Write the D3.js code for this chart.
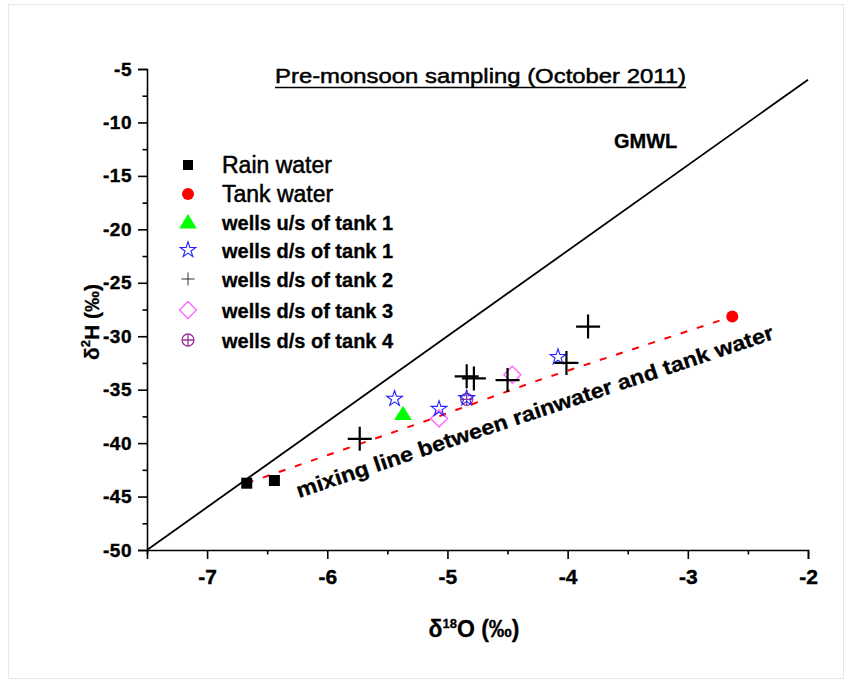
<!DOCTYPE html>
<html>
<head>
<meta charset="utf-8">
<script src="https://cdn.jsdelivr.net/npm/d3@7"></script>
<style>
  html, body { margin: 0; padding: 0; background: #fff; }
  svg text { font-family: "Liberation Sans", Arial, sans-serif; }
</style>
</head>
<body>
<svg id="chart" width="850" height="685"></svg>
<script>
// ---------- data ----------
const xTicks = [-7, -6, -5, -4, -3, -2];
const yTicks = [-50, -45, -40, -35, -30, -25, -20, -15, -10, -5];
const xDomain = [-7.5, -2];
const yDomain = [-50, -5];

const rainWater   = [[-6.67, -43.75], [-6.44, -43.5]];
const tankWater   = [[-2.63, -28.15]];
const wellsUs1    = [[-5.37, -37.25]];
const wellsDs1    = [[-5.44, -35.85], [-5.07, -36.8], [-4.84, -35.8], [-4.08, -31.95]];
const wellsDs2    = [[-5.73, -39.6], [-4.84, -33.75], [-4.78, -33.95], [-4.5, -34.1], [-4.01, -32.5], [-3.83, -29.1]];
const wellsDs3    = [[-5.07, -37.7], [-4.46, -33.6]];
const wellsDs4    = [[-4.84, -35.9]];
const mixingLine  = [[-6.67, -43.75], [-5.16, -37.85], [-4.29, -34.3], [-2.63, -28.15]];
const gmwlX       = [-7.5, -2];            // GMWL: δ2H = 8·δ18O + 10
const gmwl        = gmwlX.map(v => [v, 8 * v + 10]);

const legendLabels = ["Rain water", "Tank water", "wells u/s of tank 1", "wells d/s of tank 1",
                      "wells d/s of tank 2", "wells d/s of tank 3", "wells d/s of tank 4"];

// ---------- layout ----------
const svg = d3.select("#chart");
const x = d3.scaleLinear().domain(xDomain).range([147, 808]);
const y = d3.scaleLinear().domain(yDomain).range([550, 69]);

// faint frame
svg.append("rect").attr("x", 8.5).attr("y", 4.5).attr("width", 835).attr("height", 674)
  .attr("fill", "none").attr("stroke", "#e6e6e6").attr("stroke-width", 1);

// axes
const xAxis = d3.axisBottom(x).tickValues(xTicks).tickSize(9).tickPadding(10).tickFormat(d3.format("d"));
const xMinor = d3.axisBottom(x).tickValues(d3.range(-7.5, -1.9, 0.5).filter(v => !xTicks.includes(v))).tickSize(4.5).tickFormat("");
const yAxis = d3.axisLeft(y).tickValues(yTicks).tickSize(9).tickPadding(6).tickFormat(d3.format("d"));
const yMinor = d3.axisLeft(y).tickValues(d3.range(-47.5, -5, 5)).tickSize(4.5).tickFormat("");

function styleAxis(g, fs) {
  g.select(".domain").attr("stroke", "#000").attr("stroke-width", 1.6);
  g.selectAll(".tick line").attr("stroke", "#000").attr("stroke-width", 1.6);
  g.selectAll(".tick text").attr("fill", "#000").style("font-size", fs + "px").style("font-weight", "bold")
    .style("stroke", "#000").style("stroke-width", 0.4)
    .style("font-family", "'Liberation Sans', Arial, sans-serif").text(d => d < 0 ? "-" + Math.abs(d) : d);
}
const gx = svg.append("g").attr("transform", "translate(0,550)").call(xAxis);
styleAxis(gx, 21);
svg.append("g").attr("transform", "translate(0,550)").call(xMinor).call(g => { g.select(".domain").remove(); g.selectAll("line").attr("stroke", "#000").attr("stroke-width", 1.6); });
const gy = svg.append("g").attr("transform", "translate(147,0)").call(yAxis);
styleAxis(gy, 19);
gy.selectAll(".tick text").attr("letter-spacing", "0.5px");
svg.append("g").attr("transform", "translate(147,0)").call(yMinor).call(g => { g.select(".domain").remove(); g.selectAll("line").attr("stroke", "#000").attr("stroke-width", 1.6); });

// axis titles
const xl = svg.append("text").attr("x", 474).attr("y", 637).attr("text-anchor", "middle")
  .style("font-size", "23px").style("font-weight", "bold").style("stroke", "#000").style("stroke-width", 0.3);
xl.append("tspan").text("δ");
xl.append("tspan").attr("dy", -9).style("font-size", "13px").text("18");
xl.append("tspan").attr("dy", 9).text("O (‰)");

const yl = svg.append("text").attr("transform", "translate(99,322) rotate(-90)").attr("text-anchor", "middle")
  .style("font-size", "21px").style("font-weight", "bold").style("stroke", "#000").style("stroke-width", 0.3);
yl.append("tspan").text("δ");
yl.append("tspan").attr("dy", -9).style("font-size", "13px").text("2");
yl.append("tspan").attr("dy", 9).text("H (‰)");

// title
svg.append("text").attr("x", 275).attr("y", 83).attr("textLength", 411).attr("lengthAdjust", "spacingAndGlyphs")
  .style("font-size", "21px").style("font-weight", "normal").style("stroke", "#000").style("stroke-width", 0.5)
  .text("Pre-monsoon sampling (October 2011)");
svg.append("line").attr("x1", 275).attr("x2", 686).attr("y1", 87.5).attr("y2", 87.5).attr("stroke", "#000").attr("stroke-width", 1.6);

// GMWL
const line = d3.line().x(d => x(d[0])).y(d => y(d[1]));
svg.append("path").datum(gmwl).attr("d", line).attr("fill", "none").attr("stroke", "#000").attr("stroke-width", 1.8);
svg.append("text").attr("x", 614).attr("y", 148).style("font-size", "20px").style("font-weight", "bold")
  .style("stroke", "#000").style("stroke-width", 0.3).text("GMWL");

// mixing line
svg.append("path").datum(mixingLine).attr("d", line).attr("fill", "none").attr("stroke", "#ff0000")
  .attr("stroke-width", 2).attr("stroke-dasharray", "7,10");
svg.append("text").attr("transform", "translate(299,498) rotate(-18.5)").attr("textLength", 502).attr("lengthAdjust", "spacingAndGlyphs")
  .style("font-size", "21px").style("font-weight", "bold").style("stroke", "#000").style("stroke-width", 0.3)
  .text("mixing line between rainwater and tank water");

// ---------- marker drawers ----------
const markers = {
  square: (g, s) => g.append("rect").attr("x", -s / 2).attr("y", -s / 2).attr("width", s).attr("height", s).attr("fill", "#000"),
  circle: (g, s) => g.append("circle").attr("r", s / 2).attr("fill", "#ff0000"),
  triangle: (g, s) => g.append("path").attr("d", `M0,${-s * 0.5}L${s * 0.55},${s * 0.4}L${-s * 0.55},${s * 0.4}Z`).attr("fill", "#00ff00"),
  star: (g, s) => g.append("path").attr("d", d3.symbol(d3.symbolStar, s * s * 0.45)()).attr("fill", "none").attr("stroke", "#2222ff").attr("stroke-width", 1.1),
  plus: (g, s, w, c) => g.append("path").attr("d", `M${-s / 2},0H${s / 2}M0,${-s / 2}V${s / 2}`).attr("stroke", c || "#000").attr("stroke-width", w || 2).attr("fill", "none"),
  diamond: (g, s) => g.append("path").attr("d", `M0,${-s / 2}L${s / 2},0L0,${s / 2}L${-s / 2},0Z`).attr("fill", "none").attr("stroke", "#ff66ff").attr("stroke-width", 1.4),
  cplus: (g, s) => { g.append("circle").attr("r", s / 2).attr("fill", "none").attr("stroke", "#993399").attr("stroke-width", 1.3);
                     g.append("path").attr("d", `M${-s / 2},0H${s / 2}M0,${-s / 2}V${s / 2}`).attr("stroke", "#993399").attr("stroke-width", 1.3); }
};

function plotSeries(data, fn) {
  data.forEach(d => { const g = svg.append("g").attr("transform", `translate(${x(d[0])},${y(d[1])})`); fn(g); });
}
plotSeries(rainWater, g => markers.square(g, 11));
plotSeries(tankWater, g => markers.circle(g, 12));
plotSeries(wellsUs1, g => markers.triangle(g, 16));
plotSeries(wellsDs3, g => markers.diamond(g, 17));
plotSeries(wellsDs4, g => markers.cplus(g, 12));
plotSeries(wellsDs1, g => markers.star(g, 13));
plotSeries(wellsDs2, g => markers.plus(g, 24, 2.2));

// ---------- legend ----------
const legRows = [165, 194, 222, 250, 279, 310, 340];
const legDraw = [
  g => markers.square(g, 10), g => markers.circle(g, 12), g => markers.triangle(g, 16),
  g => markers.star(g, 13), g => markers.plus(g, 13, 1, "#333"), g => markers.diamond(g, 17), g => markers.cplus(g, 12)
];
legendLabels.forEach((lab, i) => {
  const g = svg.append("g").attr("transform", `translate(188,${legRows[i]})`);
  legDraw[i](g);
  const t = svg.append("text").attr("x", 222).attr("y", legRows[i] + 8).text(lab);
  if (i < 2) t.style("font-size", "23px").style("font-weight", "normal").style("stroke", "#000").style("stroke-width", 0.5);
  else t.style("font-size", "20px").style("font-weight", "bold").style("stroke", "#000").style("stroke-width", 0.3);
});
</script>
</body>
</html>
